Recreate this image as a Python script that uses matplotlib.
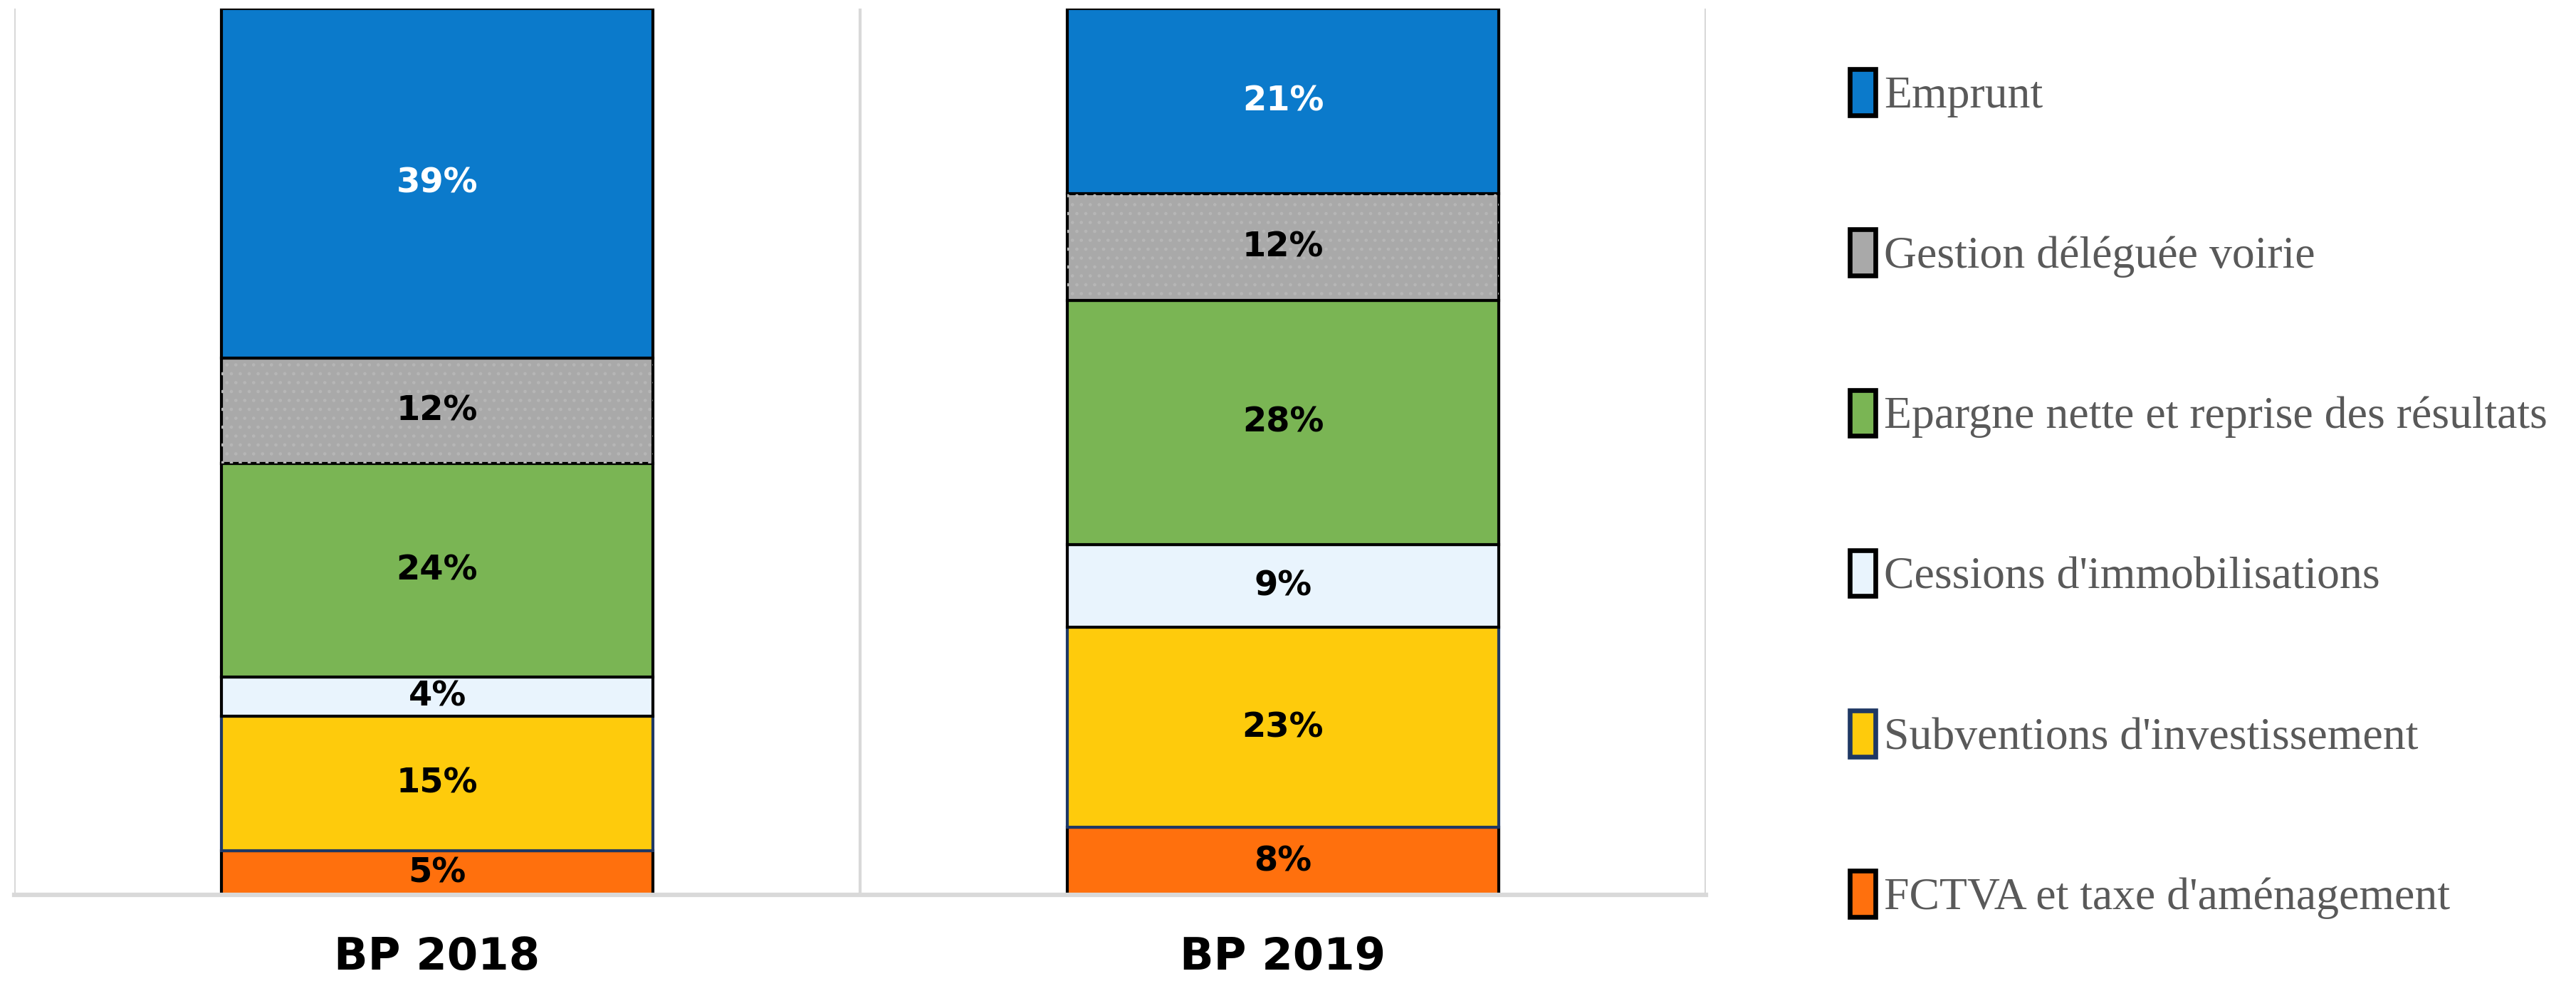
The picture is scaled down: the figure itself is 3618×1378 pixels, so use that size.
import matplotlib
matplotlib.use("Agg")
import matplotlib.pyplot as plt
from matplotlib import font_manager

years = ["BP 2018", "BP 2019"]
# stacking order, bottom to top
categories = [
    "FCTVA et taxe d'aménagement",
    "Subventions d'investissement",
    "Cessions d'immobilisations",
    "Epargne nette et reprise des résultats",
    "Gestion déléguée voirie",
    "Emprunt",
]
shares_2018 = [5.0, 15.2, 4.4, 24.1, 11.9, 39.4]
shares_2019 = [7.6, 22.6, 9.3, 27.6, 12.0, 20.9]
labels_2018 = ["5%", "15%", "4%", "24%", "12%", "39%"]
labels_2019 = ["8%", "23%", "9%", "28%", "12%", "21%"]

colors = ["#FF700D", "#FECB0C", "#E9F4FD", "#7AB554", "#A9A9A9", "#0B7ACB"]
edges = ["black", "#1F3864", "black", "black", "black", "black"]
text_colors = ["black", "black", "black", "black", "black", "white"]

names = {f.name for f in font_manager.fontManager.ttflist}
if "Liberation Sans Narrow" in names:
    sans = "Liberation Sans Narrow"
    pct_size, xlab_size = 16.5, 22
else:
    sans = "DejaVu Sans"
    pct_size, xlab_size = 11.5, 15

plt.rcParams["hatch.linewidth"] = 0.5

fig = plt.figure(figsize=(3618 / 300, 1378 / 300), dpi=300)
ax = fig.add_axes([20 / 3618, 1 - 1257 / 1378, (2396 - 20) / 3618, (1257 - 12) / 1378])

data = [shares_2018, shares_2019]
texts = [labels_2018, labels_2019]
x = list(range(len(years)))
width = 0.51

bottoms = [0.0, 0.0]
handles = []
for i, cat in enumerate(categories):
    vals = [data[0][i], data[1][i]]
    bars = ax.bar(x, vals, width, bottom=bottoms, color=colors[i],
                  edgecolor=edges[i], linewidth=1.0, label=cat, zorder=3)
    handles.append(bars)
    if cat == "Gestion déléguée voirie":
        # faint dotted texture on the grey segment
        ax.bar(x, vals, width, bottom=bottoms, fill=False, hatch="....",
               edgecolor="#B6B6B6", linewidth=0, zorder=3.5)
    for j in range(len(years)):
        ax.text(x[j], bottoms[j] + vals[j] / 2, texts[j][i], ha="center", va="center",
                fontsize=pct_size, fontweight="bold", family=sans,
                color=text_colors[i], zorder=4)
    bottoms = [bottoms[0] + vals[0], bottoms[1] + vals[1]]

ax.set_xlim(-0.5, 1.5)
ax.set_ylim(0, 100)
ax.set_xticks(x)
ax.set_xticklabels(years, fontsize=xlab_size, fontweight="bold", family=sans)
ax.set_xticks([-0.5, 0.5, 1.5], minor=True)
ax.tick_params(axis="x", which="both", length=0, pad=14)
ax.set_yticks([])
ax.grid(axis="x", which="minor", color="#D9D9D9", linewidth=1.0, zorder=0)
for side in ["left", "right", "top"]:
    ax.spines[side].set_visible(False)
ax.spines["bottom"].set_color("#D9D9D9")
ax.spines["bottom"].set_linewidth(1.5)
ax.spines["bottom"].set_zorder(5)

fs = 15.3
leg = ax.legend(handles[::-1], categories[::-1], loc="upper left",
                bbox_to_anchor=(2598 / 3618, 1 - 97 / 1378),
                bbox_transform=fig.transFigure, frameon=False,
                prop={"family": "Liberation Serif", "size": fs},
                handlelength=0.56, handleheight=1.18, handletextpad=0.2,
                labelspacing=2.47, borderpad=0, borderaxespad=0)
for t in leg.get_texts():
    t.set_color("#595959")
for h in leg.legend_handles:
    h.set_linewidth(1.6)

fig.savefig("out.png", dpi=300)
